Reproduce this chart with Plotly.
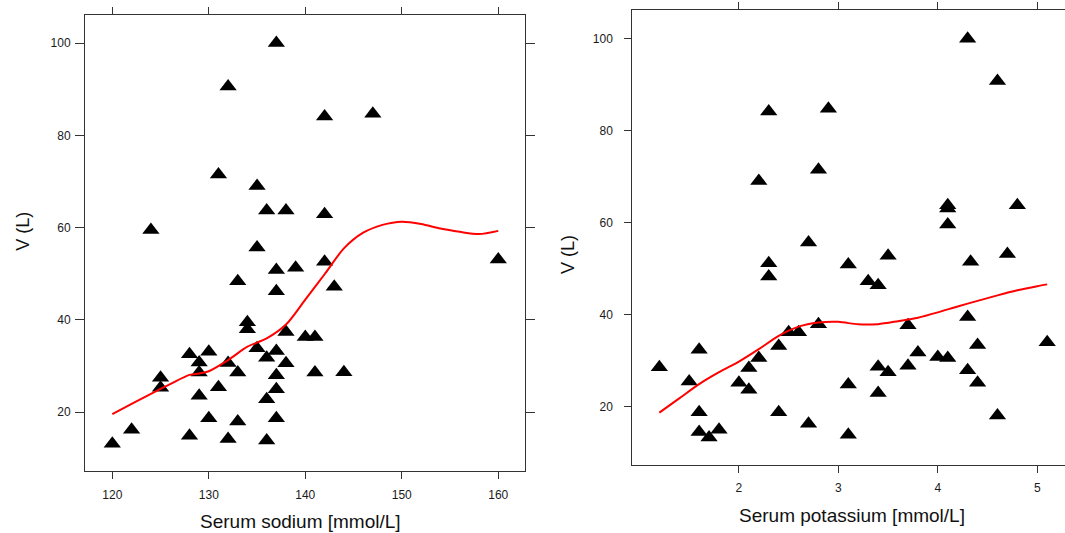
import plotly.graph_objects as go

# Serum sodium (mmol/L) against V (L)
sodium = [137, 132, 131, 135, 136, 138, 124, 142, 147, 142,
          135, 137, 139, 133, 137, 134, 134, 138, 128, 130,
          129, 129, 132, 133, 135, 136, 137, 138, 137, 137,
          125, 125, 131, 129, 136, 130, 133, 137, 122, 128,
          132, 136, 120, 160, 142, 143, 140, 141, 141, 144]
v_sodium = [100, 90.6, 71.5, 69.0, 63.7, 63.7, 59.5, 84.1, 84.7, 62.9,
            55.7, 50.8, 51.3, 48.4, 46.2, 39.5, 38.0, 37.4, 32.6, 33.1,
            30.8, 28.6, 30.7, 28.6, 33.9, 31.8, 33.3, 30.6, 28.0, 25.0,
            27.5, 25.3, 25.4, 23.6, 22.8, 18.7, 18.0, 18.7, 16.2, 14.9,
            14.2, 13.9, 13.2, 53.1, 52.6, 47.2, 36.3, 36.3, 28.6, 28.7]

# Smoothed trend for sodium
sodium_fit_x = [120, 122, 124, 126, 128, 129, 130, 132, 134, 136,
                138, 140, 142, 144, 146, 148, 150, 152, 154, 156, 158, 160]
sodium_fit_v = [19.6, 21.8, 24.0, 26.1, 28.1, 28.4, 28.9, 31.3, 34.2, 36.0,
                39.0, 44.4, 49.9, 55.5, 58.9, 60.6, 61.3, 60.8, 59.8, 59.1, 58.6, 59.3]

# Serum potassium (mmol/L) against V (L)
potassium = [2.3, 2.9, 2.8, 2.2, 2.7, 4.3, 4.6, 4.1, 4.1, 4.8,
             4.1, 2.3, 2.3, 2.8, 2.5, 2.6, 2.4, 1.6, 2.2, 2.1,
             1.2, 1.5, 2.0, 2.1, 1.6, 2.4, 2.7, 1.6, 1.8, 1.7,
             3.5, 4.7, 3.1, 4.33, 3.3, 3.4, 4.3, 3.7, 5.1, 4.4,
             3.8, 4.0, 4.1, 3.4, 3.5, 3.7, 4.3, 4.4, 3.1, 3.4,
             4.6, 3.1]
v_potassium = [84.2, 84.8, 71.5, 69.1, 55.7, 100, 90.8, 63.8, 63.1, 63.8,
               59.6, 51.2, 48.3, 37.9, 36.2, 36.2, 33.2, 32.4, 30.6, 28.4,
               28.6, 25.5, 25.2, 23.7, 18.8, 18.8, 16.3, 14.5, 15.0, 13.3,
               52.8, 53.2, 50.9, 51.5, 47.3, 46.4, 39.5, 37.7, 34.0, 33.4,
               31.8, 30.8, 30.6, 28.7, 27.5, 28.9, 27.9, 25.2, 24.8, 23.0,
               18.1, 13.9]

# Smoothed trend for potassium
potassium_fit_x = [1.2, 1.4, 1.6, 1.8, 2.0, 2.2, 2.4, 2.6, 2.8, 3.0, 3.2,
                   3.4, 3.6, 3.8, 4.0, 4.2, 4.4, 4.6, 4.8, 5.0, 5.1]
potassium_fit_v = [18.7, 21.8, 24.9, 27.5, 29.8, 32.5, 35.4, 37.4, 38.3, 38.45, 37.9,
                   37.95, 38.6, 39.35, 40.5, 41.8, 43.0, 44.2, 45.3, 46.2, 46.6]

sodium_ticks = [120, 130, 140, 150, 160]
potassium_ticks = [2, 3, 4, 5]
v_ticks = [20, 40, 60, 80, 100]

W, H = 1065, 533
FONT = "Liberation Sans, Arial, Helvetica, sans-serif"

marker_style = dict(symbol="triangle-up", size=15, color="black", line=dict(width=0))
fit_style = dict(color="#ff0000", width=2, shape="spline", smoothing=0.8)

fig = go.Figure()
fig.add_trace(go.Scatter(x=sodium, y=v_sodium, mode="markers", marker=marker_style,
                         xaxis="x", yaxis="y", showlegend=False))
fig.add_trace(go.Scatter(x=sodium_fit_x, y=sodium_fit_v, mode="lines", line=fit_style,
                         xaxis="x", yaxis="y", showlegend=False))
fig.add_trace(go.Scatter(x=potassium, y=v_potassium, mode="markers", marker=marker_style,
                         xaxis="x2", yaxis="y2", showlegend=False))
fig.add_trace(go.Scatter(x=potassium_fit_x, y=potassium_fit_v, mode="lines", line=fit_style,
                         xaxis="x2", yaxis="y2", showlegend=False))

frame = dict(showline=True, linecolor="#333333", linewidth=1, ticks="outside",
             tickcolor="#333333", tickwidth=1, showgrid=False, zeroline=False,
             tickfont=dict(family=FONT, size=12, color="#1a1a1a"))

fig.update_layout(
    width=W, height=H,
    margin=dict(l=0, r=0, t=0, b=0),
    paper_bgcolor="white", plot_bgcolor="white",
    xaxis=dict(frame, domain=[85 / W, 525 / W], range=[117.17, 162.77],
               tickvals=sodium_ticks, ticklen=7, mirror="ticks", anchor="y",
               ticklabelstandoff=6),
    yaxis=dict(frame, domain=[1 - 471 / H, 1 - 15 / H], range=[7.28, 106.07],
               tickvals=v_ticks, ticklen=9, mirror="ticks", anchor="x",
               ticklabelstandoff=2),
    xaxis2=dict(frame, domain=[632.3 / W, 1.0], range=[0.928, 5.279],
                tickvals=potassium_ticks, ticklen=7, mirror="ticks", anchor="y2",
                ticklabelstandoff=4),
    yaxis2=dict(frame, domain=[1 - 465.3 / H, 1 - 10.3 / H], range=[7.25, 106.2],
                tickvals=v_ticks, ticklen=7, mirror=False, anchor="x2",
                ticklabelstandoff=9),
    annotations=[
        dict(text="Serum sodium [mmol/L]", x=300 / W, y=1 - 521.7 / H,
             xref="paper", yref="paper", xanchor="center", yanchor="middle",
             showarrow=False, font=dict(family=FONT, size=19, color="#111111")),
        dict(text="Serum potassium [mmol/L]", x=851.7 / W, y=1 - 515 / H,
             xref="paper", yref="paper", xanchor="center", yanchor="middle",
             showarrow=False, font=dict(family=FONT, size=19, color="#111111")),
        dict(text="V (L)", x=22.7 / W, y=1 - 231 / H, textangle=-90,
             xref="paper", yref="paper", xanchor="center", yanchor="middle",
             showarrow=False, font=dict(family=FONT, size=18, color="#111111")),
        dict(text="V (L)", x=568 / W, y=1 - 255 / H, textangle=-90,
             xref="paper", yref="paper", xanchor="center", yanchor="middle",
             showarrow=False, font=dict(family=FONT, size=18, color="#111111")),
    ],
)

fig.write_html("out.html")
